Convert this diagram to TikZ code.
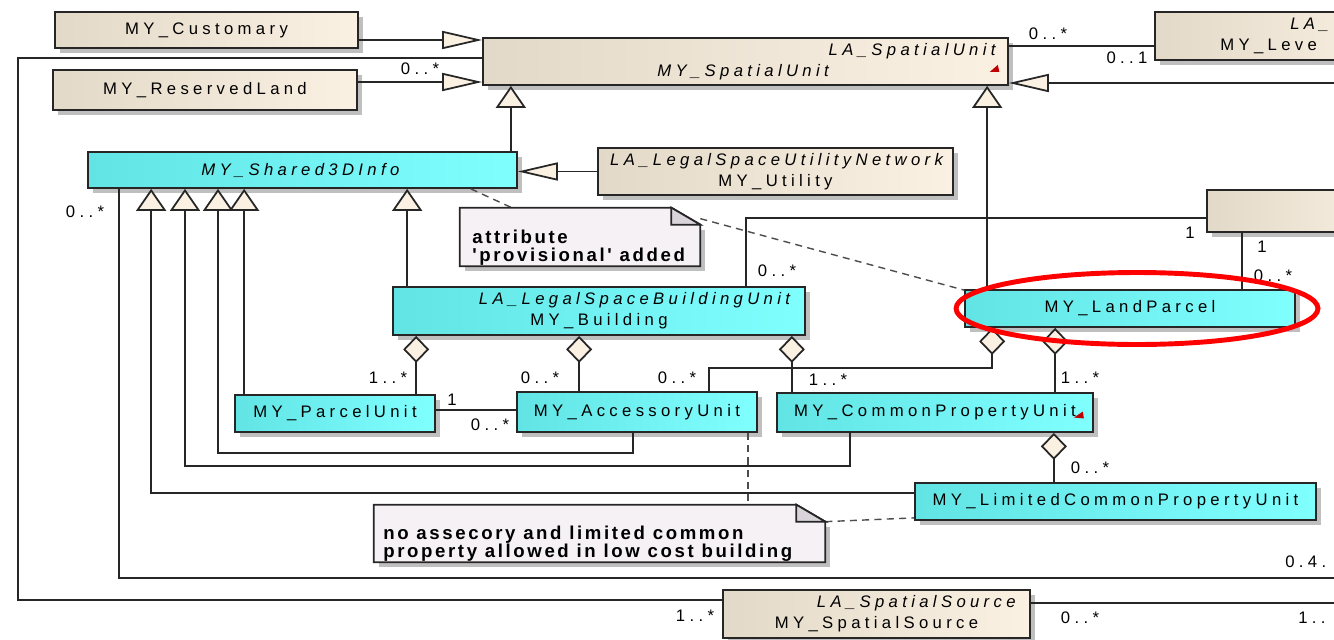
\documentclass[tikz,border=0pt]{standalone}
\usepackage{fontspec}
\setmainfont{Liberation Sans}
\newfontfamily\umlfont{Liberation Sans}[LetterSpace=26]
\newfontfamily\notefont{Liberation Sans}[LetterSpace=14]
\usetikzlibrary{arrows.meta,shadows,positioning}
\definecolor{tanL}{HTML}{E3D9C8}
\definecolor{tanR}{HTML}{FBF1E3}
\definecolor{cyL}{HTML}{62E4E4}
\definecolor{cyR}{HTML}{80FFFF}
\definecolor{noteF}{HTML}{F5F1F5}
\definecolor{foldF}{HTML}{D8D4DA}
\tikzset{
  box/.style={draw=black!85, line width=1pt, inner sep=0pt,
    font=\umlfont\fontsize{9.5}{12}\selectfont,
    drop shadow={shadow xshift=0.1cm, shadow yshift=-0.1cm, fill=black!25, opacity=1}},
  tanbox/.style={box, left color=tanL, right color=tanR},
  cybox/.style={box, left color=cyL, right color=cyR},
  conn/.style={line width=1pt, draw=black!85},
  genh/.style={conn, -{Triangle[length=0.8cm, width=0.36cm, fill=tanR]}},
  genv/.style={conn, -{Triangle[length=0.44cm, width=0.6cm, fill=tanR]}},
  agg/.style={conn, {Diamond[length=0.54cm, width=0.52cm, fill=tanR]}-},
  notelink/.style={line width=0.8pt, draw=black!70, dash pattern=on 4pt off 3pt},
  mult/.style={inner sep=0pt, font=\umlfont\fontsize{9.5}{10}\selectfont},
  notetext/.style={inner sep=0pt, align=left, font=\notefont\bfseries\fontsize{10.6}{10.3}\selectfont},
  hilite/.style={draw=red, line width=2.8pt}
}
\begin{document}
\begin{tikzpicture}[x=0.02cm, y=-0.02cm]
\useasboundingbox (0,0) rectangle (1334,639);

% classes
\node[tanbox, minimum width=6.06cm, minimum height=0.72cm] (cust) at (206.5,30) {MY\_Customary};
\node[tanbox, minimum width=6.08cm, minimum height=0.8cm] (resv) at (205,90) {MY\_ReservedLand};
\node[tanbox, minimum width=10.5cm, minimum height=0.94cm, align=center, text width=10.2cm] (su) at (745.5,61.5)
  {\hspace*{\fill}\textit{LA\_SpatialUnit}\\\textit{MY\_SpatialUnit}};
\node[tanbox, minimum width=4.9cm, minimum height=0.96cm] (lvl) at (1277.5,36) {};
\node[inner sep=0pt, font=\umlfont\fontsize{9.5}{10}\selectfont\itshape, anchor=west] (lvltop) at (1290,25) {LA\_};
\node[inner sep=0pt, font=\umlfont\fontsize{9.5}{10}\selectfont, anchor=west] (lvlname) at (1220,46) {MY\_Leve};
\node[tanbox, minimum width=3.86cm, minimum height=0.84cm] (rb) at (1303.5,211) {};
\node[cybox, minimum width=8.58cm, minimum height=0.72cm] (sh3d) at (302.5,170) {\textit{MY\_Shared3DInfo}};
\node[tanbox, minimum width=7.1cm, minimum height=0.94cm, align=center, text width=6.9cm] (util) at (775.5,171.5)
  {\hspace*{\fill}\textit{LA\_LegalSpaceUtilityNetwork}\\MY\_Utility};
\node[cybox, minimum width=6.6cm, minimum height=0.74cm] (lp) at (1130,308.5) {MY\_LandParcel};
\node[cybox, minimum width=8.24cm, minimum height=0.96cm, align=center, text width=7.84cm] (bld) at (599,311)
  {\hspace*{\fill}\textit{LA\_LegalSpaceBuildingUnit}\\MY\_Building};
\node[cybox, minimum width=4cm, minimum height=0.74cm] (pu) at (335,413.5) {MY\_ParcelUnit};
\node[cybox, minimum width=4.8cm, minimum height=0.8cm] (acc) at (637,412) {MY\_AccessoryUnit};
\node[cybox, minimum width=6.32cm, minimum height=0.78cm] (cpu) at (935,412.5) {MY\_CommonPropertyUnit};
\node[cybox, minimum width=8.02cm, minimum height=0.74cm] (lcpu) at (1115.5,501.5) {MY\_LimitedCommonPropertyUnit};
\node[tanbox, minimum width=6.14cm, minimum height=0.96cm, align=center, text width=5.74cm] (ss) at (876.5,614)
  {\hspace*{\fill}\textit{LA\_SpatialSource}\\MY\_SpatialSource};

% notes (outline drawn below)
\node[minimum width=4.8cm, minimum height=1.16cm] (note1) at (580,237) {};
\node[minimum width=9.02cm, minimum height=1.14cm] (note2) at (599.5,533.5) {};

% bend points
\coordinate (bendA) at (18,600);
\coordinate (bendB) at (218,453);
\coordinate (bendC) at (185,466);
\coordinate (bendF) at (709,368);
\coordinate (edgeA) at (1345,83);
\coordinate (edgeB) at (1345,578);

% generalizations
\draw[genh] ([yshift=-0.2cm]cust.east) -- ([yshift=-0.2cm]cust.east -| su.west);
\draw[genh] ([yshift=0.16cm]resv.east) -- ([yshift=0.16cm]resv.east -| su.west);
\draw[genh] (edgeA) -- (edgeA -| su.east);
\draw[genv] ([xshift=-0.14cm]sh3d.north east) -- ([xshift=-0.14cm]sh3d.north east |- su.south);
\draw[genh] (util.west) -- (util.west -| sh3d.east);
\draw[genv] ([xshift=0.46cm]lp.north west) -- ([xshift=0.46cm]lp.north west |- su.south);
\draw[genv] ([xshift=0.3cm]bld.north west) -- ([xshift=0.3cm]bld.north west |- sh3d.south);
\draw[genv] ([xshift=0.2cm]pu.north west) -- ([xshift=0.2cm]pu.north west |- sh3d.south);
\draw[genv] ([xshift=-0.08cm]acc.south) |- (bendB) -- (bendB |- sh3d.south);
\draw[genv] ([xshift=-1.7cm]cpu.south) |- (bendC) -- (bendC |- sh3d.south);
\draw[genv] ([yshift=0.17cm]lcpu.west) -| ([xshift=1.28cm]sh3d.south west);

% associations
\draw[conn] ([yshift=0.07cm]su.west) -| (bendA) -- (bendA -| ss.west);
\draw[conn] ([yshift=0.31cm]su.east) -- ([yshift=0.31cm]su.east -| lvl.west);
\draw[conn] ([xshift=0.64cm]sh3d.south west) |- (edgeB);
\draw[conn] ([yshift=0.22cm]ss.east) -- ([yshift=0.22cm]ss.east -| edgeB);
\draw[conn] ([xshift=-1.2cm]bld.north east) |- ([yshift=-0.14cm]rb.west);
\draw[conn] ([xshift=0.72cm]rb.south west) -- ([xshift=0.72cm]rb.south west |- lp.north);
\draw[conn] ([yshift=0.07cm]pu.east) -- ([yshift=0.07cm]pu.east -| acc.west);

% aggregations
\draw[agg] ([xshift=0.48cm]bld.south west) -- ([xshift=0.48cm]bld.south west |- pu.north);
\draw[agg] ([xshift=3.74cm]bld.south west) -- ([xshift=3.74cm]bld.south west |- acc.north);
\draw[agg] ([xshift=-0.28cm]bld.south east) -- ([xshift=-0.28cm]bld.south east |- cpu.north);
\draw[agg] ([xshift=0.56cm]lp.south west) |- (bendF) -- (bendF |- acc.north);
\draw[agg] ([xshift=1.82cm]lp.south west) -- ([xshift=1.82cm]lp.south west |- cpu.north);
\draw[agg] ([xshift=-0.8cm]cpu.south east) -- ([xshift=-0.8cm]cpu.south east |- lcpu.north);

% note links
\draw[notelink] ([xshift=-0.94cm]sh3d.south east) -- ([xshift=1.04cm]note1.north west);
\draw[notelink] ([yshift=-0.22cm]note1.north east) -- ([yshift=-0.02cm]lp.north west);
\draw[notelink] ([xshift=-0.2cm]acc.south east) -- ([xshift=-0.2cm]acc.south east |- note2.north);
\draw[notelink] ([yshift=-0.34cm]note2.north east) -- ([yshift=0.06cm]lcpu.south west);

\foreach \n in {note1,note2}{
  \fill[black!25] ([shift={(0.1cm,-0.1cm)}]\n.south west) rectangle ([shift={(0.1cm,-0.44cm)}]\n.north east);
  \filldraw[conn, fill=noteF] (\n.south west) -- (\n.north west) -- ([xshift=-0.58cm]\n.north east)
    -- ([yshift=-0.34cm]\n.north east) -- (\n.south east) -- cycle;
  \filldraw[conn, fill=foldF] ([xshift=-0.58cm]\n.north east) -- ([shift={(-0.58cm,-0.34cm)}]\n.north east)
    -- ([yshift=-0.34cm]\n.north east) -- cycle;
}
\node[notetext, anchor=north west] (note1txt) at (472,230) {attribute\\'provisional' added};
\node[notetext, anchor=north west] (note2txt) at (383,526) {no assecory and limited common\\property allowed in low cost building};

% red markers
\fill[red!75!black] ([shift={(-0.38cm,0.28cm)}]su.south east) -- ++(0.16cm,0.14cm) -- ++(0.03cm,-0.14cm) -- cycle;
\fill[red!75!black] ([shift={(-0.4cm,-0.1cm)}]cpu.east) -- ++(0.18cm,0.12cm) -- ++(0.02cm,-0.14cm) -- cycle;

% multiplicities
\node[mult] (m1) at (1048,34) {0..*};
\node[mult] (m2) at (1127,58) {0..1};
\node[mult] (m3) at (420,69) {0..*};
\node[mult] (m4) at (85,212) {0..*};
\node[mult] (m5) at (1190,233) {1};
\node[mult] (m6) at (777,271) {0..*};
\node[mult] (m7) at (1262,247) {1};
\node[mult] (m8) at (1273,276) {0..*};
\node[mult] (m9) at (388,378) {1..*};
\node[mult] (m10) at (452,400) {1};
\node[mult] (m11) at (490,425) {0..*};
\node[mult] (m12) at (540,378) {0..*};
\node[mult] (m13) at (677,378) {0..*};
\node[mult] (m14) at (828,380) {1..*};
\node[mult] (m15) at (1080,378) {1..*};
\node[mult] (m16) at (1090,468) {0..*};
\node[mult, anchor=west] (m17) at (1285,562) {0.4.};
\node[mult] (m18) at (695,616) {1..*};
\node[mult] (m19) at (1080,618) {0..*};
\node[mult, anchor=west] (m20) at (1298,618) {1..};

% highlight
\draw[hilite] ([xshift=0.14cm]lp.center) ellipse [x radius=3.62cm, y radius=0.72cm];
\end{tikzpicture}
\end{document}
